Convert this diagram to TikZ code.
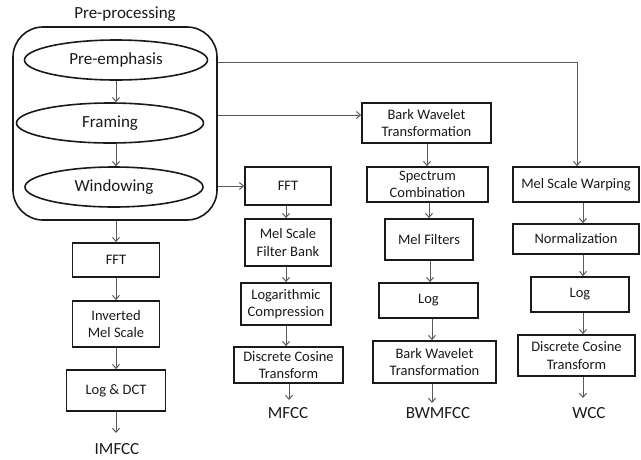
\documentclass[tikz,border=0pt]{standalone}
\usepackage{fontspec}
\setmainfont{Carlito}
\usetikzlibrary{arrows.meta,shapes.geometric}

\definecolor{ink}{HTML}{1A1A1A}
\definecolor{wire}{HTML}{5A5A5A}

\tikzset{
  stage/.style={draw=ink, line width=1.8pt, rectangle, inner sep=1pt,
    align=center, font=\fontsize{14.5}{17.5}\selectfont, text=ink},
  oval/.style={draw=ink, line width=1.6pt, ellipse, inner sep=0pt,
    font=\fontsize{17}{20}\selectfont, text=ink},
  outlabel/.style={font=\fontsize{17}{20}\selectfont, text=ink, inner sep=2pt},
  arr/.style={draw=wire, line width=1pt, -{Straight Barb[length=4pt,width=7pt]}}
}

\begin{document}
\begin{tikzpicture}[x=1pt,y=-1pt]
\useasboundingbox (0,0) rectangle (641,459);

% pre-processing group
\node[outlabel] (pretitle) at (125,14) {Pre-processing};
\node[draw=ink, line width=1.6pt, rounded corners=30pt, minimum width=204pt,
      minimum height=193pt, inner sep=0pt] (prebox) at (115,123.5) {};
\node[oval, minimum width=183pt, minimum height=40pt] (e1) at (116,60) {Pre-emphasis};
\node[oval, minimum width=187pt, minimum height=40pt] (e2) at (110,123) {Framing};
\node[oval, minimum width=178pt, minimum height=40pt] (e3) at (114,187) {Windowing};
\draw[arr] (e1.south) -- (e1.south |- e2.north);
\draw[arr] (e1.south |- e2.south) -- (e1.south |- e3.north);

% IMFCC branch
\node[stage, minimum width=87pt, minimum height=34pt] (fft1) at (116,260) {FFT};
\node[stage, minimum width=87pt, minimum height=46pt] (imel) at (116,324) {Inverted\\Mel Scale};
\node[stage, minimum width=99pt, minimum height=41pt] (logdct) at (116,390.5) {Log \& DCT};
\node[outlabel] (imfcc) at (117,449) {IMFCC};
\draw[arr] (prebox.south -| fft1) -- (fft1.north);
\draw[arr] (fft1) -- (imel);
\draw[arr] (imel) -- (logdct);
\draw[arr] (logdct.south) -- (logdct.south |- 0,433);

% MFCC branch
\node[stage, minimum width=86pt, minimum height=38pt] (fft2) at (288,186) {FFT};
\node[stage, minimum width=86pt, minimum height=47pt] (melbank) at (288,242.5) {Mel Scale\\Filter Bank};
\node[stage, minimum width=90pt, minimum height=42pt] (logc) at (286,304) {Logarithmic\\Compression};
\node[stage, minimum width=109pt, minimum height=36pt] (dct1) at (288.5,365) {Discrete Cosine\\Transform};
\node[outlabel] (mfcc) at (288,413) {MFCC};
\draw[arr] (prebox.east |- fft2.west) -- (fft2.west);
\draw[arr] (fft2.south -| 286,0) -- (melbank.north -| 286,0);
\draw[arr] (melbank.south -| 286,0) -- (logc.north -| 286,0);
\draw[arr] (logc.south -| 286,0) -- (dct1.north -| 286,0);
\draw[arr] (dct1.south -| 289,0) -- (289,400);

% BWMFCC branch
\node[stage, minimum width=129pt, minimum height=40pt] (bwt1) at (426.5,123) {Bark Wavelet\\Transformation};
\node[stage, minimum width=121pt, minimum height=35pt] (spec) at (427.5,184.5) {Spectrum\\Combination};
\node[stage, minimum width=88pt, minimum height=41pt] (melf) at (429,239.5) {Mel Filters};
\node[stage, minimum width=99pt, minimum height=35pt] (log2) at (428.5,300.5) {Log};
\node[stage, minimum width=123pt, minimum height=42pt] (bwt2) at (434.5,362) {Bark Wavelet\\Transformation};
\node[outlabel] (bwmfcc) at (438,413) {BWMFCC};
\draw[arr] (prebox.east |- 0,115) -- (bwt1.west |- 0,115);
\draw[arr] (bwt1.south -| 427,0) -- (spec.north -| 427,0);
\draw[arr] (spec.south -| 429,0) -- (melf.north -| 429,0);
\draw[arr] (melf.south -| 430,0) -- (log2.north -| 430,0);
\draw[arr] (log2.south -| 432,0) -- (bwt2.north -| 432,0);
\draw[arr] (bwt2.south -| 432,0) -- (432,403);

% WCC branch
\node[stage, minimum width=126pt, minimum height=35pt] (msw) at (576,184.5) {Mel Scale Warping};
\node[stage, minimum width=126pt, minimum height=30pt] (norm) at (576,239) {Normalization};
\node[stage, minimum width=98pt, minimum height=35pt] (log3) at (580,294.5) {Log};
\node[stage, minimum width=117pt, minimum height=41pt] (dct2) at (576.5,355.5) {Discrete Cosine\\Transform};
\node[outlabel] (wcc) at (589,413) {WCC};
\draw[arr] (prebox.east |- 0,62) -| (msw.north -| 577,0);
\draw[arr] (msw.south -| 583,0) -- (norm.north -| 583,0);
\draw[arr] (norm.south -| 583,0) -- (log3.north -| 583,0);
\draw[arr] (log3.south -| 583,0) -- (dct2.north -| 583,0);
\draw[arr] (dct2.south -| 583,0) -- (583,398);
\end{tikzpicture}
\end{document}
